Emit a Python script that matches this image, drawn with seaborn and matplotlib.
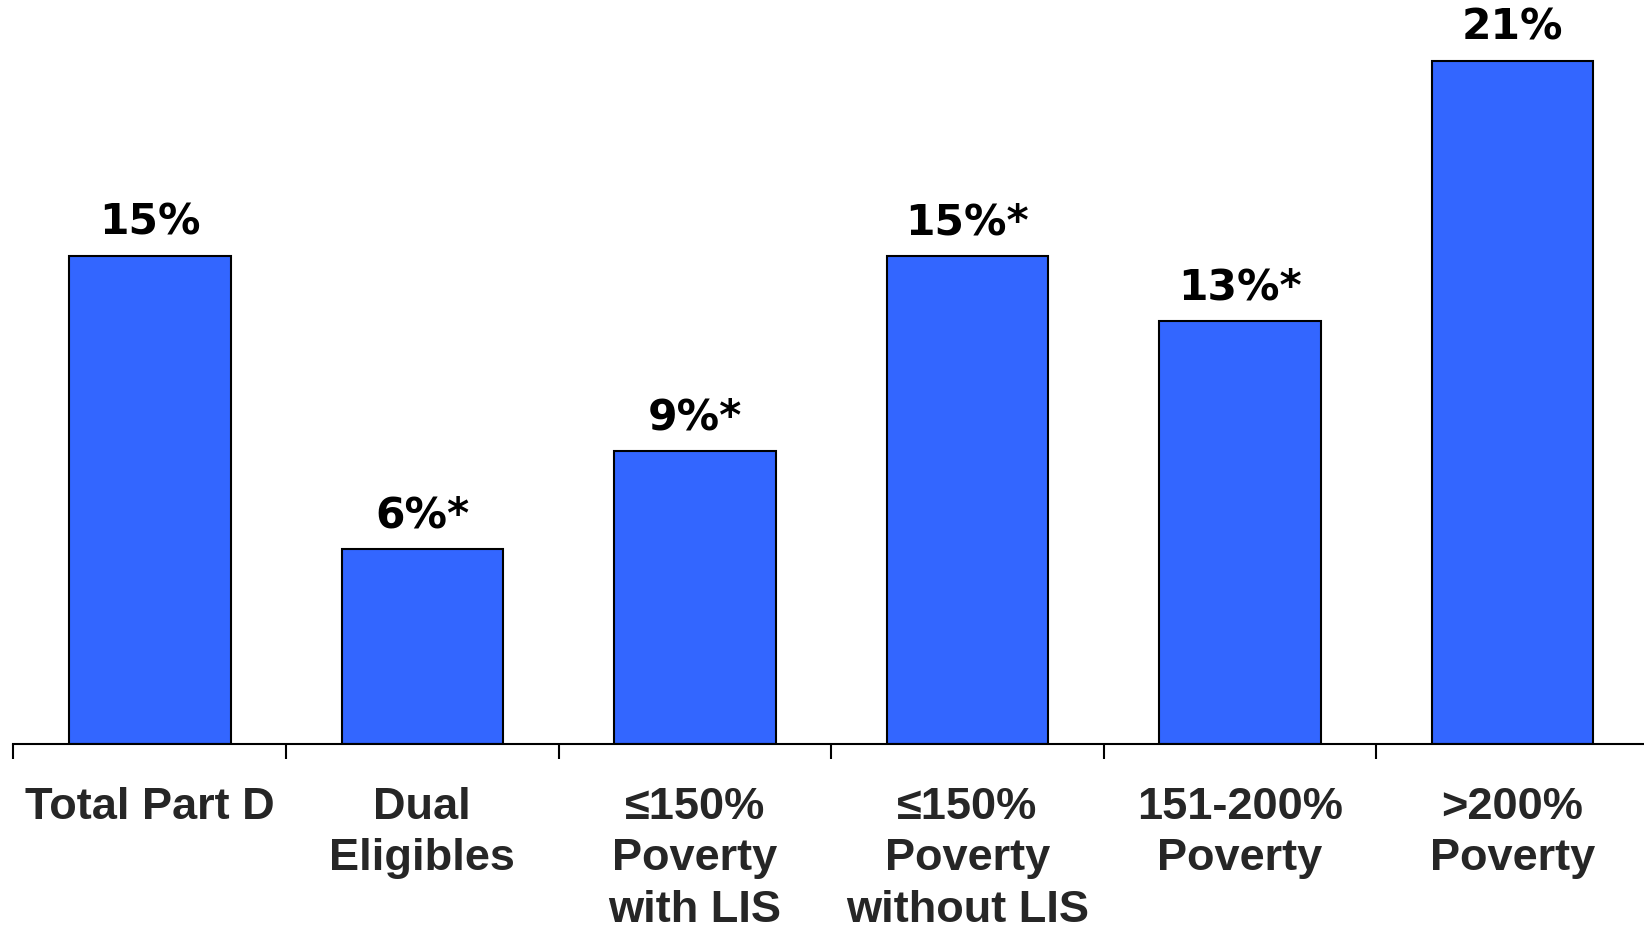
import matplotlib
matplotlib.use("Agg")
import matplotlib.pyplot as plt
import numpy as np
import seaborn as sns

# categories and values
categories = ["Total Part D", "Dual\nEligibles", "≤150%\nPoverty\nwith LIS",
              "≤150%\nPoverty\nwithout LIS", "151-200%\nPoverty", ">200%\nPoverty"]
values = [15, 6, 9, 15, 13, 21]
value_labels = ["15%", "6%*", "9%*", "15%*", "13%*", "21%"]

sns.set_style("white")

fig = plt.figure(figsize=(16.44, 9.31), dpi=100)
# axes runs a little past the right edge, like in the reference
ax = fig.add_axes([0.00821, 0.20086, 0.99477, 0.768])

sns.barplot(x=list(range(len(values))), y=values, color="#3366FF", saturation=1,
            width=0.5925, edgecolor="black", linewidth=1.5, ax=ax)

ax.set_xlim(-0.5, 5.5)
ax.set_ylim(0, 22)

# value labels above the bars
for i, (v, lab) in enumerate(zip(values, value_labels)):
    ax.annotate(lab, (i, v), xytext=(0, 15.5), textcoords="offset points",
                ha="center", va="baseline", fontsize=30.5, fontweight="bold",
                family="DejaVu Sans", color="black")

# category labels at bar centres, tick marks at the boundaries
ax.set_xticks(np.arange(len(categories)))
ax.set_xticklabels(categories, fontsize=32.5, fontweight="bold",
                   family="Liberation Sans", linespacing=1.32)
ax.tick_params(axis="x", which="major", length=0, pad=31)
ax.set_xticks(np.arange(-0.5, len(categories)), minor=True)
ax.tick_params(axis="x", which="minor", length=10.8, width=1.5, color="black",
               direction="out", bottom=True)
ax.set_yticks([])

for s in ["left", "top", "right"]:
    ax.spines[s].set_visible(False)
ax.spines["bottom"].set_color("black")
ax.spines["bottom"].set_linewidth(1.5)

ax.set_xlabel("")
ax.set_ylabel("")

fig.savefig("out.png", dpi=100)
